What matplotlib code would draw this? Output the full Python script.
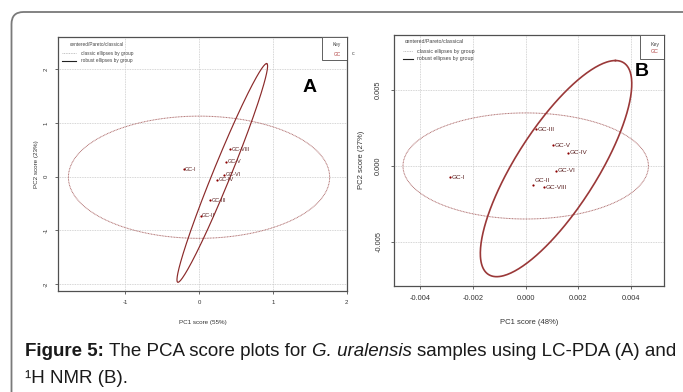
import numpy as np
import matplotlib
matplotlib.use('Agg')
import matplotlib.pyplot as plt
from matplotlib.patches import FancyBboxPatch, Rectangle
from matplotlib.lines import Line2D
from matplotlib.transforms import IdentityTransform

plt.rcParams['font.family'] = ['Liberation Sans', 'DejaVu Sans']

# sample labels
labels_a = ['GC-I', 'GC-II', 'GC-III', 'GC-IV', 'GC-V', 'GC-VI', 'GC-VIII']
pc1_a = [-0.21, 0.02, 0.15, 0.25, 0.36, 0.34, 0.42]
pc2_a = [0.14, -0.73, -0.44, -0.06, 0.28, 0.04, 0.51]

labels_b = ['GC-I', 'GC-II', 'GC-III', 'GC-IV', 'GC-V', 'GC-VI', 'GC-VIII']
pc1_b = [-0.00287, 0.00029, 0.00039, 0.00162, 0.00102, 0.00115, 0.00069]
pc2_b = [-0.00075, -0.00127, 0.00242, 0.00088, 0.00136, -0.00031, -0.00140]

# classic ellipses: centre and half-axes
classic_a = [0.0, -0.01, 1.77, 1.14]
classic_b = [0.0, 0.0, 0.00465, 0.0035]
# robust ellipses: centre, offset to top vertex, half-width through centre
robust_a = [0.315, 0.07, 0.60, 2.04, 0.13]
robust_b = [0.00115, -0.000175, 0.00225, 0.00713, 0.00178]

ticks_a_x = [-1, 0, 1, 2]
ticks_a_y = [-2, -1, 0, 1, 2]
ticks_b_x = [-0.004, -0.002, 0.0, 0.002, 0.004]
ticks_b_y = [-0.005, 0.0, 0.005]

caption_1 = [('Figure 5:', 'normal', 'bold'),
             ('The PCA score plots for', 'normal', 'normal'),
             ('G. uralensis', 'italic', 'normal'),
             ('samples using LC-PDA (A) and', 'normal', 'normal')]
caption_2 = '\u00b9H NMR (B).'

dark_red = '#8b2a2a'
classic_col = '#b07070'
txt_col = '#5a2020'


def ellipse_xy(params, robust):
    t = np.linspace(0, 2 * np.pi, 300)
    if robust:
        cx, cy, ax_, ay_, bx = params
        return cx + ax_ * np.cos(t) + bx * np.sin(t), cy + ay_ * np.cos(t)
    cx, cy, rx, ry = params
    return cx + rx * np.cos(t), cy + ry * np.sin(t)


def draw_panel(ax, xs, ys, labels, classic, robust, fs, lab_fs, lw_rob,
               rob_col, ii_offset=None):
    ax.grid(True, color='#c8c8c8', linestyle=(0, (1, 1)), linewidth=0.6)
    ax.set_axisbelow(True)
    ex, ey = ellipse_xy(classic, False)
    ax.plot(ex, ey, color=classic_col, linestyle=(0, (1, 0.6)), linewidth=0.7)
    rx, ry = ellipse_xy(robust, True)
    ax.plot(rx, ry, color=rob_col, linewidth=lw_rob)
    ax.plot(xs, ys, 'o', color='#8b0000', markersize=1.6, markeredgewidth=0)
    for x, y, lab in zip(xs, ys, labels):
        off = (1.2, 0)
        if ii_offset is not None and lab == 'GC-II':
            off = ii_offset
        ax.annotate(lab, (x, y), xytext=off, textcoords='offset points',
                    fontsize=lab_fs, color=txt_col, va='center', ha='left')
    for s in ax.spines.values():
        s.set_color('#505050')
        s.set_linewidth(0.9)
    ax.tick_params(length=2.5, width=0.6, colors='#505050', labelsize=fs,
                   labelcolor='#333333', pad=4)
    for t in ax.get_yticklabels():
        t.set_rotation(90)
        t.set_va('center')


fig = plt.figure(figsize=(6.83, 3.92), dpi=100)

# rounded frame
frame = FancyBboxPatch((11.5, -40), 720, 392 - 12 + 40,
                       boxstyle='round,pad=0,rounding_size=12',
                       transform=IdentityTransform(), facecolor='none',
                       edgecolor='#7a7a7a', linewidth=1.3)
fig.add_artist(frame)

# panel A
axA = fig.add_axes([58 / 683, 1 - 291.3 / 392, 289 / 683, 254.3 / 392])
axA.set_xlim(-1.911, 2.005)
axA.set_ylim(-2.138, 2.606)
axA.set_xticks(ticks_a_x)
axA.set_yticks(ticks_a_y)
axA.set_xticklabels([str(v) for v in ticks_a_x])
axA.set_yticklabels([str(v) for v in ticks_a_y])
draw_panel(axA, pc1_a, pc2_a, labels_a, classic_a, robust_a, 4.3, 4.0, 0.85,
           dark_red)
axA.set_xlabel('PC1 score (55%)', fontsize=4.5, color='#333333')
axA.set_ylabel('PC2 score (23%)', fontsize=4.5, color='#333333')
axA.xaxis.label.set_va('center')
axA.yaxis.label.set_va('center')
axA.xaxis.set_label_coords(0.5, -0.121)
axA.yaxis.set_label_coords(-0.073, 0.5)

# panel B
axB = fig.add_axes([394 / 683, 1 - 285.7 / 392, 270 / 683, 250.7 / 392])
axB.set_xlim(-0.00499, 0.00524)
axB.set_ylim(-0.0079, 0.00864)
axB.set_xticks(ticks_b_x)
axB.set_yticks(ticks_b_y)
axB.set_xticklabels(['%.3f' % v for v in ticks_b_x])
axB.set_yticklabels(['%.3f' % v for v in ticks_b_y])
draw_panel(axB, pc1_b, pc2_b, labels_b, classic_b, robust_b, 5.3, 4.6, 1.2,
           '#9a3838', ii_offset=(1.0, 3.5))
axB.tick_params(axis='y', pad=6)
axB.set_xlabel('PC1 score (48%)', fontsize=5.5, color='#333333')
axB.set_ylabel('PC2 score (27%)', fontsize=5.5, color='#333333')
axB.xaxis.label.set_va('center')
axB.yaxis.label.set_va('center')
axB.xaxis.set_label_coords(0.5, -0.145)
axB.yaxis.set_label_coords(-0.119, 0.5)

# in-panel legends and keys
legend_specs = [
    (axA, 3.4, 0.042, 0.969, 0.013, 0.064, 0.0785, 0.936, 0.907,
     (0.913, 0.91), (0.965, 0.969), (0.965, 0.932), 'A', (0.872, 0.80)),
    (axB, 3.8, 0.041, 0.975, 0.033, 0.07, 0.084, 0.936, 0.905,
     (0.911, 0.904), (0.966, 0.964), (0.966, 0.933), 'B', (0.917, 0.854)),
]
for (ax, lfs, tx, ty, l0, l1, lx, cy_, ry_, kbox, kkey, kgc, big,
     bigpos) in legend_specs:
    ax.text(tx, ty, 'centered/Pareto/classical', transform=ax.transAxes,
            fontsize=lfs, color='#444444', va='center')
    ax.add_line(Line2D([l0, l1], [cy_, cy_], transform=ax.transAxes,
                       color='#b0b0b0', linestyle=(0, (1, 1)), linewidth=0.6))
    ax.text(lx, cy_, 'classic ellipses by group', transform=ax.transAxes,
            fontsize=lfs, color='#444444', va='center')
    ax.add_line(Line2D([l0, l1], [ry_, ry_], transform=ax.transAxes,
                       color='#222222', linewidth=0.8))
    ax.text(lx, ry_, 'robust ellipses by group', transform=ax.transAxes,
            fontsize=lfs, color='#444444', va='center')
    ax.add_patch(Rectangle(kbox, 1 - kbox[0], 1 - kbox[1],
                           transform=ax.transAxes, facecolor='white',
                           edgecolor='#606060', linewidth=0.7, zorder=5))
    ax.text(kkey[0], kkey[1], 'Key', transform=ax.transAxes, fontsize=lfs,
            color='#444444', ha='center', va='center', zorder=6)
    ax.text(kgc[0], kgc[1], 'GC', transform=ax.transAxes, fontsize=lfs,
            color='#b04040', ha='center', va='center', zorder=6)
    ax.text(bigpos[0], bigpos[1], big, transform=ax.transAxes, fontsize=14,
            fontweight='bold', color='black', ha='center', va='center')

axA.text(1.016, 0.936, 'c', transform=axA.transAxes, fontsize=3.8,
         color='#444444', va='center', clip_on=False)

# caption, pieced together so bold and italic runs sit side by side
cap_fs = 13.5
renderer = fig.canvas.get_renderer()
probe = fig.text(0, 0, 'x x', fontsize=cap_fs)
w_xx = probe.get_window_extent(renderer).width
probe.set_text('xx')
space_w = w_xx - probe.get_window_extent(renderer).width
probe.remove()

x_px = 25.0
y_px = 392 - 356
for piece, style, weight in caption_1:
    t = fig.text(x_px / 683, y_px / 392, piece, fontsize=cap_fs,
                 fontstyle=style, fontweight=weight, color='#1a1a1a',
                 va='baseline', ha='left')
    x_px += t.get_window_extent(renderer).width + space_w
fig.text(25 / 683, 1 - 383 / 392, caption_2, fontsize=cap_fs,
         color='#1a1a1a', va='baseline', ha='left')

fig.savefig('out.png', dpi=100)
